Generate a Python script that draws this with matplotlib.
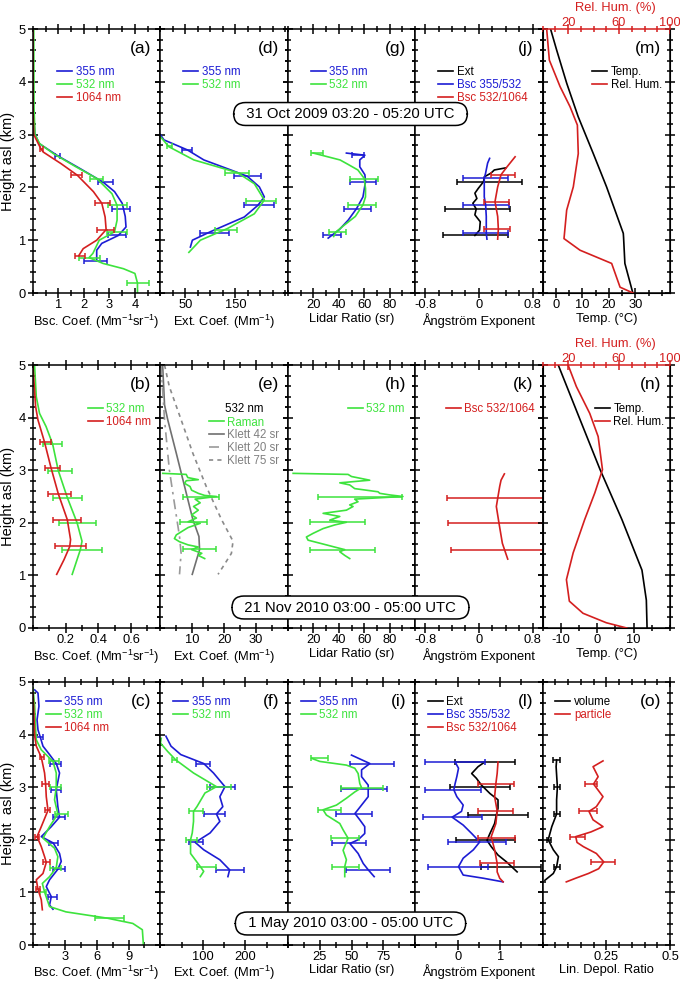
import matplotlib
matplotlib.use('Agg')
import matplotlib.pyplot as plt
from matplotlib.lines import Line2D
import numpy as np

plt.rcParams['font.family'] = ['Liberation Sans', 'DejaVu Sans']
plt.rcParams['mathtext.default'] = 'regular'
plt.rcParams['axes.unicode_minus'] = False

BLUE = '#1c1cd4'
GREEN = '#3de33d'
RED = '#d41f1f'
K42 = '#707070'
K20 = '#9a9a9a'
K75 = '#8a8a8a'

# ---------------- Row 1 : 31 Oct 2009 ----------------
a355_h = [5.0, 3.5, 3.02, 2.83, 2.59, 2.35, 2.1, 1.92, 1.7, 1.45, 1.25, 1.09, 0.94, 0.81, 0.61]
a355_x = [0.0, 0.01, 0.07, 0.24, 1.0, 1.87, 2.75, 3.2, 3.5, 3.62, 3.65, 3.35, 2.7, 2.5, 2.5]
a355_eh = [2.6, 2.1, 1.6, 1.09, 0.61]
a355_ec = [0.95, 2.85, 3.45, 3.31, 2.46]
a355_ew = [0.1, 0.28, 0.36, 0.35, 0.46]
a532_h = [5.0, 3.5, 3.0, 2.83, 2.64, 2.4, 2.17, 1.88, 1.66, 1.38, 1.16, 1.0, 0.75, 0.67, 0.56, 0.46, 0.37, 0.19, 0.0]
a532_x = [0.03, 0.04, 0.08, 0.26, 0.8, 1.65, 2.5, 3.1, 3.3, 3.3, 3.2, 2.6, 2.35, 2.2, 2.75, 3.55, 4.0, 4.1, 4.1]
a532_eh = [2.15, 1.66, 1.16, 0.67, 0.18]
a532_ec = [2.5, 3.32, 3.29, 2.22, 4.11]
a532_ew = [0.26, 0.36, 0.39, 0.42, 0.43]
a1064_h = [5.0, 3.5, 3.0, 2.74, 2.67, 2.45, 2.23, 1.92, 1.7, 1.44, 1.2, 1.0, 0.84, 0.71]
a1064_x = [0.0, 0.0, 0.03, 0.3, 0.4, 1.1, 1.74, 2.37, 2.7, 2.83, 2.87, 2.5, 1.97, 1.8]
a1064_eh = [2.72, 2.23, 1.7, 1.2, 0.71]
a1064_ec = [0.32, 1.71, 2.73, 2.83, 1.84]
a1064_ew = [0.06, 0.2, 0.3, 0.33, 0.2]

d355_h = [3.0, 2.9, 2.71, 2.52, 2.33, 2.21, 2.01, 1.82, 1.66, 1.44, 1.16, 1.0, 0.87]
d355_x = [0, 7, 54, 87, 141, 174, 198, 208, 195, 168, 100, 64, 60]
d355_eh = [2.71, 2.21, 1.66, 1.14]
d355_ec = [54, 174, 198, 109]
d355_ew = [10, 27, 30, 29]
d532_h = [2.96, 2.77, 2.52, 2.28, 2.07, 1.76, 1.5, 1.22, 1.0, 0.77]
d532_x = [0, 17, 67, 154, 188, 208, 188, 134, 80, 57]
d532_eh = [2.78, 2.28, 1.74, 1.2]
d532_ec = [18, 154, 201, 132]
d532_ew = [5, 24, 30, 22]

g355_h = [2.65, 2.61, 2.52, 2.39, 2.24, 2.11, 1.82, 1.6, 1.38, 1.2, 1.1, 1.04]
g355_x = [46, 60.5, 56.5, 56.5, 60.5, 61, 59, 54, 47.4, 40.4, 35, 31.7]
g355_eh = [2.62, 2.11, 1.6, 1.1]
g355_ec = [55, 59, 55, 35]
g355_ew = [5, 10.5, 10.5, 7]
g532_h = [2.65, 2.61, 2.52, 2.44, 2.33, 2.17, 1.98, 1.82, 1.67, 1.45, 1.26, 1.16, 1.07]
g532_x = [20, 26.5, 41, 47, 55, 60, 61, 61, 59, 53, 43, 38, 36]
g532_eh = [2.65, 2.16, 1.66, 1.15]
g532_ec = [23, 60, 58.5, 39]
g532_ew = [4.5, 11, 11, 7]

jext_h = [2.37, 2.33, 2.27, 2.2, 2.11, 1.98, 1.89, 1.79, 1.7, 1.59, 1.48, 1.35, 1.19, 1.09]
jext_x = [0.40, 0.23, 0.18, 0.08, 0.07, -0.01, -0.06, -0.03, -0.09, -0.04, -0.06, 0.02, 0.01, -0.06]
jext_eh = [2.11, 1.59, 1.09]
jext_ec = [0.16, -0.02, -0.05]
jext_ew = [0.49, 0.49, 0.49]
j355_h = [2.55, 2.46, 2.27, 2.17, 1.82, 1.67, 1.45, 1.13, 1.02]
j355_x = [0.16, 0.13, 0.1, 0.08, 0.08, 0.1, 0.11, 0.11, 0.12]
j355_eh = [2.17, 1.67, 1.13]
j355_ec = [0.1, 0.11, 0.1]
j355_ew = [0.33, 0.34, 0.34]
j1064_h = [2.58, 2.39, 2.24, 2.01, 1.73, 1.45, 1.21, 1.02]
j1064_x = [0.54, 0.42, 0.33, 0.28, 0.24, 0.28, 0.29, 0.28]
j1064_eh = [2.24, 1.72, 1.21]
j1064_ec = [0.36, 0.26, 0.27]
j1064_ew = [0.18, 0.19, 0.19]

m_temp_h = [5.0, 4.6, 3.97, 3.34, 2.64, 2.01, 1.13, 1.06, 0.56, 0.0]
m_temp = [-2.0, 0.3, 4.1, 8.4, 14.1, 19.1, 25.4, 25.5, 26.0, 29.0]
m_rh_h = [5.0, 4.41, 3.91, 3.53, 3.18, 2.64, 2.01, 1.57, 1.03, 0.81, 0.56, 0.11, 0.0]
m_rh = [3.2, 5.3, 13.7, 21.5, 27.3, 28.0, 24.1, 18.9, 16.8, 29.4, 54.2, 60.8, 71.0]

# ---------------- Row 2 : 21 Nov 2010 ----------------
b532_h = [4.97, 4.4, 4.08, 3.83, 3.5, 2.99, 2.48, 2.0, 1.65, 1.49, 1.02]
b532_x = [0.01, 0.02, 0.04, 0.08, 0.12, 0.155, 0.21, 0.27, 0.3, 0.29, 0.24]
b532_eh = [3.5, 2.99, 2.48, 2.0, 1.49]
b532_ec = [0.12, 0.165, 0.21, 0.27, 0.3]
b532_ew = [0.057, 0.072, 0.088, 0.113, 0.124]
b1064_h = [4.97, 4.21, 3.96, 3.54, 3.05, 2.55, 2.06, 1.68, 1.55, 1.3, 1.02]
b1064_x = [0.0, 0.016, 0.03, 0.07, 0.11, 0.155, 0.21, 0.23, 0.225, 0.19, 0.145]
b1064_eh = [3.54, 3.05, 2.55, 2.06, 1.55]
b1064_ec = [0.077, 0.12, 0.162, 0.21, 0.23]
b1064_ew = [0.036, 0.048, 0.07, 0.086, 0.096]

e_raman_h = [2.94, 2.92, 2.86, 2.82, 2.80, 2.75, 2.69, 2.62, 2.56, 2.52, 2.50, 2.45, 2.38, 2.31,
             2.24, 2.15, 2.09, 2.02, 1.99, 1.91, 1.85, 1.77, 1.70, 1.64, 1.58, 1.54, 1.49, 1.42,
             1.38, 1.32]
e_raman_x = [0.75, 8.1, 8.6, 11.9, 8.1, 7.6, 9.3, 9.8, 11.9, 13.9, 17.6, 10.9, 12.5, 10.4,
             11.9, 9.8, 11.3, 8.7, 12.5, 8.7, 7.1, 5.0, 4.4, 6.0, 8.7, 11.9, 9.8, 13.0,
             11.9, 13.9]
e_raman_eh = [2.49, 2.02, 1.5]
e_raman_ec = [12.7, 10.3, 12.2]
e_raman_ew = [5.6, 4.3, 5.1]
e_k42_h = [5.0, 4.24, 3.96, 3.32, 2.69, 2.06, 1.74, 1.49, 1.02]
e_k42_x = [0.7, 1.3, 2.3, 5.0, 7.6, 10.2, 12.1, 12.3, 10.0]
e_k20_h = [5.0, 3.96, 3.01, 2.37, 1.74, 1.42, 1.02]
e_k20_x = [0.2, 1.3, 2.8, 4.4, 6.0, 6.5, 6.0]
e_k75_h = [5.0, 4.59, 3.96, 3.32, 2.69, 2.06, 1.65, 1.42, 1.17, 1.02]
e_k75_x = [1.3, 2.8, 6.5, 10.2, 14.4, 19.2, 22.8, 22.3, 19.7, 18.1]

h532_h = [2.94, 2.92, 2.88, 2.81, 2.76, 2.72, 2.65, 2.59, 2.56, 2.53, 2.50, 2.45, 2.40, 2.34,
          2.31, 2.24, 2.18, 2.12, 2.05, 2.01, 1.96, 1.89, 1.80, 1.73, 1.67, 1.58, 1.53, 1.49,
          1.45, 1.38, 1.32]
h532_x = [4.2, 47.3, 50, 64.3, 40.8, 48.6, 52.5, 70.8, 72.2, 80, 90.4, 52.5, 55.1, 48.6,
          51.2, 46, 27.7, 40.8, 32.9, 46, 36.9, 27.7, 19.9, 14.6, 15.9, 30.3, 38.2, 44.7,
          40.8, 44.7, 48.6]
h532_eh = [2.5, 2.01, 1.49]
h532_ec = [57, 38.8, 42.7]
h532_ew = [33, 21.5, 25.5]

k1064_h = [2.93, 2.81, 2.69, 2.31, 1.99, 1.61, 1.31]
k1064_x = [0.38, 0.33, 0.31, 0.26, 0.30, 0.35, 0.43]
k1064_eh = [2.48, 2.0, 1.48]
k1064_ec = [0.27, 0.30, 0.37]
k1064_ew = [0.75, 0.76, 0.78]

n_temp_h = [5.0, 3.96, 3.01, 2.06, 1.1, 0.53, 0.0]
n_temp = [-10.7, -4.7, 0.8, 6.8, 12.3, 13.5, 13.7]
n_rh_h = [5.0, 4.59, 4.08, 3.64, 3.01, 2.57, 2.06, 1.43, 0.92, 0.51, 0.28, 0.1, 0.0]
n_rh = [20, 26.5, 37, 43.6, 47, 41, 33, 24, 18.7, 21, 31.7, 50, 66]

# ---------------- Row 3 : 1 May 2010 ----------------
c355_h = [4.85, 4.79, 4.54, 4.28, 4.09, 3.95, 3.78, 3.62, 3.45, 3.27, 2.95, 2.63, 2.43, 2.25,
          2.06, 1.94, 1.74, 1.59, 1.44, 1.24, 1.11, 0.92, 0.76, 0.68]
c355_x = [0.16, 0.47, 0.56, 0.38, 0.47, 0.69, 0.94, 1.56, 2.19, 2.5, 2.19, 2.34, 2.5, 1.72,
          0.78, 1.9, 2.5, 2.66, 2.34, 1.56, 1.25, 1.72, 1.56, 1.88]
c355_eh = [3.95, 3.45, 2.95, 2.43, 1.94, 1.44, 0.92]
c355_ec = [0.62, 2.14, 2.19, 2.42, 1.92, 2.42, 1.83]
c355_ew = [0.31, 0.52, 0.47, 0.55, 0.42, 0.55, 0.42]
c532_h = [4.89, 4.54, 4.09, 3.9, 3.71, 3.49, 3.27, 3.0, 2.76, 2.49, 2.25, 2.03, 1.84, 1.68,
          1.47, 1.3, 1.17, 1.0, 0.73, 0.63, 0.51, 0.41, 0.29, 0.0]
c532_x = [0.0, 0.16, 0.25, 0.31, 0.78, 1.88, 2.19, 2.19, 2.03, 2.34, 1.56, 0.94, 2.03, 2.34,
          2.19, 1.56, 0.88, 1.1, 1.56, 3.1, 7.0, 9.4, 10.3, 10.4]
c532_eh = [3.49, 3.0, 2.49, 1.47, 1.0, 0.51]
c532_ec = [1.97, 2.11, 2.66, 2.11, 0.94, 7.2]
c532_ew = [0.47, 0.55, 0.62, 0.55, 0.31, 1.4]
c1064_h = [4.79, 4.54, 3.97, 3.78, 3.57, 3.27, 3.06, 2.82, 2.56, 2.25, 2.06, 1.87, 1.68, 1.57,
           1.36, 1.24, 1.06, 0.86, 0.67]
c1064_x = [0.0, 0.06, 0.16, 0.31, 0.78, 1.09, 1.19, 1.25, 1.41, 0.78, 0.38, 0.78, 1.09, 1.25,
           0.94, 0.31, 0.47, 0.78, 0.88]
c1064_eh = [3.57, 3.06, 2.56, 2.06, 1.57, 1.06]
c1064_ec = [0.81, 1.17, 1.36, 0.39, 1.25, 0.5]
c1064_ew = [0.19, 0.3, 0.27, 0.17, 0.31, 0.19]

f355_h = [3.97, 3.78, 3.62, 3.45, 3.27, 3.01, 2.82, 2.63, 2.49, 2.35, 2.13, 1.95, 1.81, 1.62, 1.43, 1.3]
f355_x = [13, 25, 48, 102, 125, 152, 140, 147, 132, 140, 117, 82, 102, 140, 163, 159]
f355_eh = [3.45, 3.01, 2.49, 1.95, 1.43]
f355_ec = [100, 146, 127, 84, 165]
f355_ew = [17, 29, 25, 17, 33]
f532_h = [3.93, 3.84, 3.68, 3.52, 3.27, 3.01, 2.89, 2.63, 2.54, 2.35, 2.13, 2.0, 1.74, 1.49, 1.4, 1.3]
f532_x = [2, 0, 17, 36, 78, 132, 105, 86, 78, 78, 75, 71, 71, 94, 102, 94]
f532_eh = [3.52, 3.01, 2.54, 2.0, 1.49]
f532_ec = [34, 138, 84, 73, 109]
f532_ew = [6, 29, 17, 13.5, 23]

i355_h = [3.61, 3.45, 3.33, 3.2, 3.04, 2.96, 2.82, 2.66, 2.5, 2.38, 2.25, 2.12, 2.0, 1.93, 1.74, 1.55, 1.43, 1.3]
i355_x = [50, 64.4, 57.9, 57.9, 63.1, 63.1, 63.1, 57.9, 52.7, 56.5, 60.4, 60.4, 55.2, 48.7, 55.2, 59.2, 63.1, 67.8]
i355_eh = [3.45, 2.96, 2.5, 1.93, 1.43]
i355_ec = [66, 60, 52, 48, 63]
i355_ew = [17, 18, 14, 13.5, 17.5]
i532_h = [3.55, 3.49, 3.42, 3.36, 3.26, 3.07, 2.99, 2.91, 2.79, 2.66, 2.57, 2.47, 2.31, 2.19, 2.03, 1.8, 1.62, 1.49, 1.3]
i532_x = [18.6, 25.1, 46, 52.6, 55.2, 56.5, 57.9, 52.6, 46, 38.2, 27.7, 30.3, 40.8, 43.4, 47.3, 43.4, 46, 44.7, 44.7]
i532_eh = [3.55, 2.99, 2.57, 2.03, 1.49]
i532_ec = [25, 58, 33, 45, 45]
i532_ew = [6.5, 16.5, 9, 11, 10.5]

lext_h = [3.48, 3.39, 3.26, 3.17, 3.04, 2.88, 2.76, 2.6, 2.47, 2.31, 2.12, 1.99, 1.87, 1.71, 1.58, 1.39]
lext_x = [0.64, 0.48, 0.33, 0.44, 0.56, 0.76, 0.95, 0.95, 0.91, 0.87, 0.76, 0.69, 0.79, 0.95, 1.15, 1.40]
lext_eh = [3.48, 3.0, 2.47, 1.99, 1.49]
lext_ec = [0.64, 0.53, 0.95, 0.66, 1.26]
lext_ew = [0.7, 0.7, 0.7, 0.7, 0.7]
l355_h = [3.48, 3.36, 3.2, 3.07, 2.95, 2.82, 2.66, 2.54, 2.43, 2.28, 2.12, 1.96, 1.81, 1.65, 1.49, 1.33, 1.27, 1.2]
l355_x = [-0.06, 0.02, -0.02, -0.06, -0.09, -0.02, 0.13, 0.09, -0.13, 0.13, 0.33, 0.52, 0.37, 0.13, 0.02, 0.13, 0.6, 1.07]
l355_eh = [3.48, 2.95, 2.43, 1.96, 1.49]
l355_ec = [-0.06, -0.11, -0.12, 0.46, 0.01]
l355_ew = [0.7, 0.67, 0.7, 0.68, 0.7]
l1064_h = [3.48, 3.26, 3.07, 2.82, 2.55, 2.31, 2.06, 1.81, 1.55, 1.39, 1.27, 1.2]
l1064_x = [0.95, 0.93, 0.90, 0.87, 0.93, 0.90, 0.79, 0.87, 0.93, 0.93, 0.99, 1.07]
l1064_eh = [3.06, 2.55, 2.04, 1.55]
l1064_ec = [0.9, 0.89, 0.92, 0.92]
l1064_ew = [0.42, 0.41, 0.44, 0.4]

o_vol_h = [3.52, 3.39, 3.0, 2.76, 2.49, 2.25, 2.0, 1.81, 1.68, 1.49, 1.36, 1.23]
o_vol_x = [0.055, 0.053, 0.058, 0.055, 0.055, 0.036, 0.022, 0.042, 0.062, 0.055, 0.042, 0.009]
o_vol_eh = [3.52, 3.0, 2.49, 2.0, 1.49]
o_vol_ec = [0.055, 0.057, 0.055, 0.024, 0.055]
o_vol_ew = [0.013, 0.011, 0.012, 0.008, 0.012]
o_par_h = [3.5, 3.39, 3.2, 3.06, 2.82, 2.63, 2.54, 2.38, 2.25, 2.15, 2.06, 1.95, 1.87, 1.74, 1.58, 1.45, 1.36, 1.27, 1.2]
o_par_x = [0.237, 0.198, 0.218, 0.2, 0.237, 0.211, 0.182, 0.198, 0.237, 0.19, 0.13, 0.135, 0.16, 0.211, 0.24, 0.22, 0.18, 0.13, 0.093]
o_par_eh = [3.06, 2.54, 2.06, 1.58]
o_par_ec = [0.19, 0.178, 0.137, 0.236]
o_par_ew = [0.024, 0.034, 0.03, 0.048]

titles = ['31 Oct 2009 03:20 - 05:20 UTC', '21 Nov 2010 03:00 - 05:00 UTC', '1 May 2010 03:00 - 05:00 UTC']

# ---------------- Layout ----------------
W, H = 680, 981
fig = plt.figure(figsize=(W / 100, H / 100), dpi=100)
col_left = [33, 160.4, 287.8, 415.2, 542.6]
col_w = 127.4
rows = [(29, 293), (365, 628), (682, 945)]
FS = 9.3
LW = 1.2


def add_ax(r, c):
    top, bot = rows[r]
    return fig.add_axes([col_left[c] / W, 1 - bot / H, col_w / W, (bot - top) / H])


def style(ax, xlim, major, labels, minor, xlabel, first=False, ylabel='Height asl (km)', lpad=1.5):
    ax.set_xlim(*xlim)
    ax.set_ylim(0, 5)
    ax.set_xticks(major)
    ax.set_xticklabels(labels)
    ax.set_xticks(minor, minor=True)
    ax.set_yticks(range(6))
    ax.set_yticks(np.arange(0, 5.01, 0.2), minor=True)
    ax.tick_params(which='both', direction='inout', top=True, right=True,
                   labelsize=FS, width=1.1, pad=0.6)
    ax.tick_params(which='major', length=7)
    ax.tick_params(which='minor', length=4.5)
    if first:
        ax.set_ylabel(ylabel, fontsize=10.5, labelpad=3)
        ax.tick_params(axis='y', pad=1.5)
    else:
        ax.tick_params(labelleft=False)
    ax.set_xlabel(xlabel, fontsize=FS, labelpad=lpad)
    for s in ax.spines.values():
        s.set_linewidth(1.1)


def line(ax, x, h, color, ls='-'):
    ax.plot(x, h, color=color, lw=LW, ls=ls)


def err(ax, h, c, w, color):
    ax.errorbar(c, h, xerr=w, fmt='none', ecolor=color, elinewidth=1.1,
                capsize=2, capthick=1.1)


def panel_label(ax, s):
    ax.text(0.93, 0.925, s, transform=ax.transAxes, ha='right', va='center', fontsize=12.5)


def leg(ax, labels, colors, x, y, styles=None, textcolors=None, title=None):
    styles = styles or ['-'] * len(labels)
    handles = [Line2D([], [], color=c, lw=LW, ls=s) for c, s in zip(colors, styles)]
    L = ax.legend(handles, labels, loc='upper left', bbox_to_anchor=(x, y), frameon=False,
                  fontsize=8.3, handlelength=1.3, handletextpad=0.3, labelspacing=0.08,
                  borderpad=0, borderaxespad=0,
                  labelcolor=textcolors if textcolors else colors,
                  title=title, title_fontsize=8.3)
    if title:
        L._legend_box.sep = 1


def rh_axis(ax):
    tw = ax.twiny()
    tw.set_xlim(0, 100)
    tw.set_xticks([20, 60, 100])
    tw.set_xticklabels(['20', '60', '100'])
    tw.set_xticks(np.arange(0, 101, 10), minor=True)
    tw.tick_params(axis='x', which='both', direction='inout', colors=RED,
                   labelsize=FS, width=1.1, pad=-3.2)
    tw.tick_params(axis='x', which='major', length=7)
    tw.tick_params(axis='x', which='minor', length=4.5)
    tw.spines['top'].set_color(RED)
    tw.spines['top'].set_linewidth(1.1)
    tw.set_xlabel('Rel. Hum. (%)', color=RED, fontsize=FS)
    tw.xaxis.set_label_coords(0.57, 1.07)
    ax.tick_params(top=False)
    ax.spines['top'].set_visible(False)
    return tw


BSC = 'Bsc. Coef. (Mm$^{-1}$sr$^{-1}$)'
EXT = 'Ext. Coef. (Mm$^{-1}$)'
LR = 'Lidar Ratio (sr)'
AE = 'Ångström Exponent'
TMP = 'Temp. (°C)'

# ================= Row 1 =================
ax = add_ax(0, 0)
style(ax, (0, 5), [1, 2, 3, 4], ['1', '2', '3', '4'], np.arange(0, 5.01, 0.5), BSC, first=True)
line(ax, a355_x, a355_h, BLUE); err(ax, a355_eh, a355_ec, a355_ew, BLUE)
line(ax, a532_x, a532_h, GREEN); err(ax, a532_eh, a532_ec, a532_ew, GREEN)
line(ax, a1064_x, a1064_h, RED); err(ax, a1064_eh, a1064_ec, a1064_ew, RED)
leg(ax, ['355 nm', '532 nm', '1064 nm'], [BLUE, GREEN, RED], 0.19, 0.86)
panel_label(ax, '(a)')

ax = add_ax(0, 1)
style(ax, (0, 255), [50, 150], ['50', '150'], np.arange(0, 256, 25), EXT)
line(ax, d355_x, d355_h, BLUE); err(ax, d355_eh, d355_ec, d355_ew, BLUE)
line(ax, d532_x, d532_h, GREEN); err(ax, d532_eh, d532_ec, d532_ew, GREEN)
leg(ax, ['355 nm', '532 nm'], [BLUE, GREEN], 0.18, 0.86)
panel_label(ax, '(d)')

ax = add_ax(0, 2)
style(ax, (0, 100), [20, 40, 60, 80], ['20', '40', '60', '80'], np.arange(0, 101, 10), LR)
line(ax, g355_x, g355_h, BLUE); err(ax, g355_eh, g355_ec, g355_ew, BLUE)
line(ax, g532_x, g532_h, GREEN); err(ax, g532_eh, g532_ec, g532_ew, GREEN)
leg(ax, ['355 nm', '532 nm'], [BLUE, GREEN], 0.18, 0.86)
panel_label(ax, '(g)')

ax = add_ax(0, 3)
style(ax, (-0.95, 0.95), [-0.8, 0, 0.8], ['-0.8', '0', '0.8'], np.arange(-0.8, 0.81, 0.2), AE)
line(ax, jext_x, jext_h, 'black'); err(ax, jext_eh, jext_ec, jext_ew, 'black')
line(ax, j355_x, j355_h, BLUE); err(ax, j355_eh, j355_ec, j355_ew, BLUE)
line(ax, j1064_x, j1064_h, RED); err(ax, j1064_eh, j1064_ec, j1064_ew, RED)
leg(ax, ['Ext', 'Bsc 355/532', 'Bsc 532/1064'], ['black', BLUE, RED], 0.18, 0.86)
panel_label(ax, '(j)')

ax = add_ax(0, 4)
style(ax, (-5, 43), [0, 10, 20, 30], ['0', '10', '20', '30'], np.arange(-5, 43.1, 5), TMP)
tw = rh_axis(ax)
line(ax, m_temp, m_temp_h, 'black')
tw.plot(m_rh, m_rh_h, color=RED, lw=LW)
leg(ax, ['Temp.', 'Rel. Hum.'], ['black', RED], 0.39, 0.86, textcolors=['black', 'black'])
panel_label(ax, '(m)')

# ================= Row 2 =================
ax = add_ax(1, 0)
style(ax, (0, 0.78), [0.2, 0.4, 0.6], ['0.2', '0.4', '0.6'], np.arange(0, 0.79, 0.1), BSC, first=True)
line(ax, b532_x, b532_h, GREEN); err(ax, b532_eh, b532_ec, b532_ew, GREEN)
line(ax, b1064_x, b1064_h, RED); err(ax, b1064_eh, b1064_ec, b1064_ew, RED)
leg(ax, ['532 nm', '1064 nm'], [GREEN, RED], 0.43, 0.855)
panel_label(ax, '(b)')

ax = add_ax(1, 1)
style(ax, (0, 40), [10, 20, 30], ['10', '20', '30'], np.arange(0, 40.1, 5), EXT)
line(ax, e_k42_x, e_k42_h, K42)
line(ax, e_k20_x, e_k20_h, K20, ls=(0, (6, 3, 1.5, 3)))
line(ax, e_k75_x, e_k75_h, K75, ls=(0, (2.5, 2.5)))
line(ax, e_raman_x, e_raman_h, GREEN); err(ax, e_raman_eh, e_raman_ec, e_raman_ew, GREEN)
leg(ax, ['Raman', 'Klett 42 sr', 'Klett 20 sr', 'Klett 75 sr'], [GREEN, K42, K20, K75], 0.38, 0.855,
    styles=['-', '-', (0, (6, 3, 1.5, 3)), (0, (2.5, 2.5))],
    textcolors=[GREEN, '#808080', '#808080', '#808080'], title='532 nm')
panel_label(ax, '(e)')

ax = add_ax(1, 2)
style(ax, (0, 100), [20, 40, 60, 80], ['20', '40', '60', '80'], np.arange(0, 101, 10), LR)
line(ax, h532_x, h532_h, GREEN); err(ax, h532_eh, h532_ec, h532_ew, GREEN)
leg(ax, ['532 nm'], [GREEN], 0.47, 0.855)
panel_label(ax, '(h)')

ax = add_ax(1, 3)
style(ax, (-0.95, 0.95), [-0.8, 0, 0.8], ['-0.8', '0', '0.8'], np.arange(-0.8, 0.81, 0.2), AE)
line(ax, k1064_x, k1064_h, RED); err(ax, k1064_eh, k1064_ec, k1064_ew, RED)
leg(ax, ['Bsc 532/1064'], [RED], 0.24, 0.855)
panel_label(ax, '(k)')

ax = add_ax(1, 4)
style(ax, (-15, 20), [-10, 0, 10], ['-10', '0', '10'], np.arange(-15, 20.1, 5), TMP)
tw = rh_axis(ax)
line(ax, n_temp, n_temp_h, 'black')
tw.plot(n_rh, n_rh_h, color=RED, lw=LW)
leg(ax, ['Temp.', 'Rel. Hum.'], ['black', RED], 0.41, 0.855, textcolors=['black', 'black'])
panel_label(ax, '(n)')

# ================= Row 3 =================
ax = add_ax(2, 0)
style(ax, (0, 12), [3, 6, 9], ['3', '6', '9'], np.arange(0, 12.1, 1.5), BSC, first=True,
      ylabel='Height  asl (km)', lpad=0.8)
line(ax, c355_x, c355_h, BLUE); err(ax, c355_eh, c355_ec, c355_ew, BLUE)
line(ax, c532_x, c532_h, GREEN); err(ax, c532_eh, c532_ec, c532_ew, GREEN)
line(ax, c1064_x, c1064_h, RED); err(ax, c1064_eh, c1064_ec, c1064_ew, RED)
leg(ax, ['355 nm', '532 nm', '1064 nm'], [BLUE, GREEN, RED], 0.1, 0.945)
panel_label(ax, '(c)')

ax = add_ax(2, 1)
style(ax, (0, 300), [100, 200], ['100', '200'], np.arange(0, 301, 50), EXT, lpad=0.8)
line(ax, f355_x, f355_h, BLUE); err(ax, f355_eh, f355_ec, f355_ew, BLUE)
line(ax, f532_x, f532_h, GREEN); err(ax, f532_eh, f532_ec, f532_ew, GREEN)
leg(ax, ['355 nm', '532 nm'], [BLUE, GREEN], 0.1, 0.945)
panel_label(ax, '(f)')

ax = add_ax(2, 2)
style(ax, (0, 100), [25, 50, 75], ['25', '50', '75'], np.arange(0, 101, 12.5), LR, lpad=0.8)
line(ax, i355_x, i355_h, BLUE); err(ax, i355_eh, i355_ec, i355_ew, BLUE)
line(ax, i532_x, i532_h, GREEN); err(ax, i532_eh, i532_ec, i532_ew, GREEN)
leg(ax, ['355 nm', '532 nm'], [BLUE, GREEN], 0.1, 0.945)
panel_label(ax, '(i)')

ax = add_ax(2, 3)
style(ax, (-1, 2), [0, 1], ['0', '1'], np.arange(-1, 2.01, 0.5), AE, lpad=0.8)
line(ax, lext_x, lext_h, 'black'); err(ax, lext_eh, lext_ec, lext_ew, 'black')
line(ax, l355_x, l355_h, BLUE); err(ax, l355_eh, l355_ec, l355_ew, BLUE)
line(ax, l1064_x, l1064_h, RED); err(ax, l1064_eh, l1064_ec, l1064_ew, RED)
leg(ax, ['Ext', 'Bsc 355/532', 'Bsc 532/1064'], ['black', BLUE, RED], 0.1, 0.945)
panel_label(ax, '(l)')

ax = add_ax(2, 4)
style(ax, (0, 0.5), [0.25, 0.5], ['0.25', '0.5'], np.arange(0, 0.501, 0.05), 'Lin. Depol. Ratio', lpad=0.8)
line(ax, o_vol_x, o_vol_h, 'black'); err(ax, o_vol_eh, o_vol_ec, o_vol_ew, 'black')
line(ax, o_par_x, o_par_h, RED); err(ax, o_par_eh, o_par_ec, o_par_ew, RED)
leg(ax, ['volume', 'particle'], ['black', RED], 0.1, 0.945)
panel_label(ax, '(o)')

# ---------------- date boxes ----------------
for txt, yc in zip(titles, [114, 607.5, 923.5]):
    fig.text(350.5 / W, 1 - yc / H, '  ' + txt + '  ', ha='center', va='center', fontsize=10.7,
             bbox=dict(boxstyle='round,pad=0.3,rounding_size=0.8', fc='white', ec='black', lw=1.1),
             zorder=20)

fig.savefig('out.png', dpi=100)
